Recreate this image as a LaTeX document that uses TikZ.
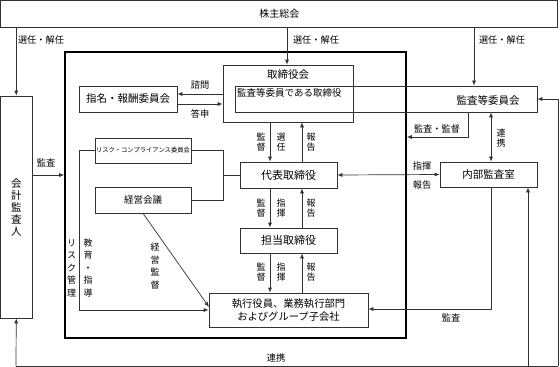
\documentclass[tikz,border=0pt]{standalone}
\usepackage{fontspec}
\setmainfont{Noto Sans CJK JP}
\usetikzlibrary{arrows.meta,calc}
\begin{document}
\begin{tikzpicture}[x=1pt,y=-1pt,
  box/.style={draw=black!80, line width=0.7pt, inner sep=0pt, font=\fontsize{10.5}{12}\selectfont},
  arr/.style={draw=black!80, line width=0.7pt, -{Latex[length=5pt,width=4pt]}},
  dbl/.style={draw=black!80, line width=0.7pt, {Latex[length=5pt,width=4pt]}-{Latex[length=5pt,width=4pt]}},
  ln/.style={draw=black!80, line width=0.7pt},
  lab/.style={inner sep=0pt, font=\fontsize{9.2}{10}\selectfont},
  vlab/.style={inner sep=0pt, align=center, font=\fontsize{9}{9.8}\selectfont},
  vlabw/.style={inner sep=0pt, align=center, font=\fontsize{9}{12.5}\selectfont},
]
\useasboundingbox (0,0) rectangle (560,367);

% boxes
\node[box, minimum width=557pt, minimum height=26.5pt, font=\fontsize{10}{12}\selectfont] (kabu) at (279.25,13.75) {株主総会};
\node[box, minimum width=31.5pt, minimum height=222pt, align=center, font=\fontsize{10.5}{12}\selectfont] (kaikei) at (16.25,207) {会\\計\\監\\査\\人};
\node[draw=black, line width=1.6pt, minimum width=341pt, minimum height=286pt, inner sep=0pt] (inner) at (235.5,195) {};
\node[box, minimum width=130pt, minimum height=57pt] (tori) at (288,93.5) {};
\node[inner sep=0pt, font=\fontsize{10.5}{12}\selectfont] (toritxt) at (288,75) {取締役会};
\node[box, minimum width=302pt, minimum height=26pt] (kansa) at (386,99) {};
\node[inner sep=0pt, anchor=west, font=\fontsize{9.5}{11}\selectfont] (kansatori) at (237,93) {監査等委員である取締役};
\node[inner sep=0pt, font=\fontsize{10.5}{12}\selectfont] (kansatxt) at (488,100) {監査等委員会};
\node[box, minimum width=98pt, minimum height=26pt] (shimei) at (128,99) {指名・報酬委員会};
\node[box, minimum width=96pt, minimum height=25pt, font=\fontsize{6.3}{7}\selectfont] (risk) at (143,150.5) {リスク・コンプライアンス委員会};
\node[box, minimum width=96pt, minimum height=26pt, font=\fontsize{9.5}{12}\selectfont] (keiei) at (143,200) {経営会議};
\node[box, minimum width=97pt, minimum height=26pt, font=\fontsize{11}{12}\selectfont] (daihyo) at (288.5,175) {代表取締役};
\node[box, minimum width=97pt, minimum height=25pt, font=\fontsize{11}{12}\selectfont] (tanto) at (288.5,240.5) {担当取締役};
\node[box, minimum width=159pt, minimum height=34pt, align=center, font=\fontsize{10.3}{12.5}\selectfont] (shikko) at (288.5,310) {執行役員、業務執行部門\\およびグループ子会社};
\node[box, minimum width=97pt, minimum height=25pt] (naibu) at (488.5,174.5) {内部監査室};

% coordinates
\coordinate (cx1) at (474,0);
\coordinate (ck) at (270,0);
\coordinate (ch) at (302,0);
\coordinate (ckansa) at (468,0);
\coordinate (crenk) at (491,0);
\coordinate (j1) at (223,150.5);
\coordinate (jr) at (79,0);
\coordinate (d1) at (209,307);
\coordinate (bl) at (16,366);
\coordinate (br) at (558,366);
\coordinate (bm) at (528,366);
\coordinate (ys) at (0,94);
\coordinate (yt) at (0,104);
\coordinate (yk) at (0,137);
\coordinate (ykk) at (0,309);
\coordinate (yr) at (0,310);

% shareholders
\draw[arr] (kabu.south -| kaikei.north) -- (kaikei.north);
\node[lab] (l1) at (41,40) {選任・解任};
\draw[arr] (kabu.south -| 287,0) -- (tori.north -| 287,0);
\node[lab] (l2) at (316,40) {選任・解任};
\draw[arr] (kabu.south -| cx1) -- (kansa.north -| cx1);
\node[lab] (l3) at (502,40) {選任・解任};

% nomination
\draw[arr] (tori.west |- ys) -- (shimei.east |- ys);
\node[lab] (l4) at (200,85) {諮問};
\draw[arr] (shimei.east |- yt) -- (tori.west |- yt);
\node[lab] (l5) at (200,114) {答申};

% chain
\draw[arr] (tori.south -| ck) -- (daihyo.north -| ck);
\draw[arr] (daihyo.north -| ch) -- (tori.south -| ch);
\node[vlab] (l6) at (261,142) {監\\督};
\node[vlab] (l7) at (281,142) {選\\任};
\node[vlab] (l8) at (311,142) {報\\告};
\draw[arr] (daihyo.south -| ck) -- (tanto.north -| ck);
\draw[arr] (tanto.north -| ch) -- (daihyo.south -| ch);
\node[vlab] (l9) at (261,208) {監\\督};
\node[vlab] (l10) at (281,208) {指\\揮};
\node[vlab] (l11) at (311,208) {報\\告};
\draw[arr] (tanto.south -| ck) -- (shikko.north -| ck);
\draw[arr] (shikko.north -| ch) -- (tanto.south -| ch);
\node[vlab] (l12) at (261,272) {監\\督};
\node[vlab] (l13) at (281,272) {指\\揮};
\node[vlab] (l14) at (311,272) {報\\告};

% audit committee
\draw[arr] (kansa.south -| ckansa) |- (inner.east |- yk);
\node[lab] (l15) at (437,129) {監査・監督};
\draw[dbl] (kansa.south -| crenk) -- (naibu.north -| crenk);
\node[vlab] (l16) at (501,138) {連\\携};
\draw[dbl] (daihyo.east) -- (naibu.west);
\node[lab] (l17) at (422,166) {指揮};
\node[lab] (l18) at (422,185) {報告};
\draw[arr] (naibu.south -| crenk) |- (shikko.east |- ykk);
\node[lab] (l19) at (451,318) {監査};

% accounting auditor
\draw[arr] (kaikei.east |- daihyo.west) -- (inner.west |- daihyo.west);
\node[lab] (l20) at (46,163) {監査};

% risk / management
\draw[ln] (risk.east) -- (j1) |- (keiei.east);
\draw[ln] (j1 |- daihyo.west) -- (daihyo.west);
\draw[arr] (risk.west) -| (jr |- yr) -- (shikko.west |- yr);
\node[vlabw] (l21) at (71.5,268) {リ\\ス\\ク\\管\\理};
\node[vlabw] (l22) at (88,268) {教\\育\\・\\指\\導};
\draw[arr] (keiei.south) -- (d1);
\node[vlabw] (l23) at (155,266) {経\\営\\監\\督};

% bottom loop
\draw[arr] (bl) -- (kaikei.south);
\draw[ln] (bl) -- (br);
\draw[arr] (br) -- (br |- kansa.east) -- (kansa.east);
\draw[arr] (bm) -- (naibu.south -| bm);
\node[lab] (l24) at (276,358) {連携};
\end{tikzpicture}
\end{document}
